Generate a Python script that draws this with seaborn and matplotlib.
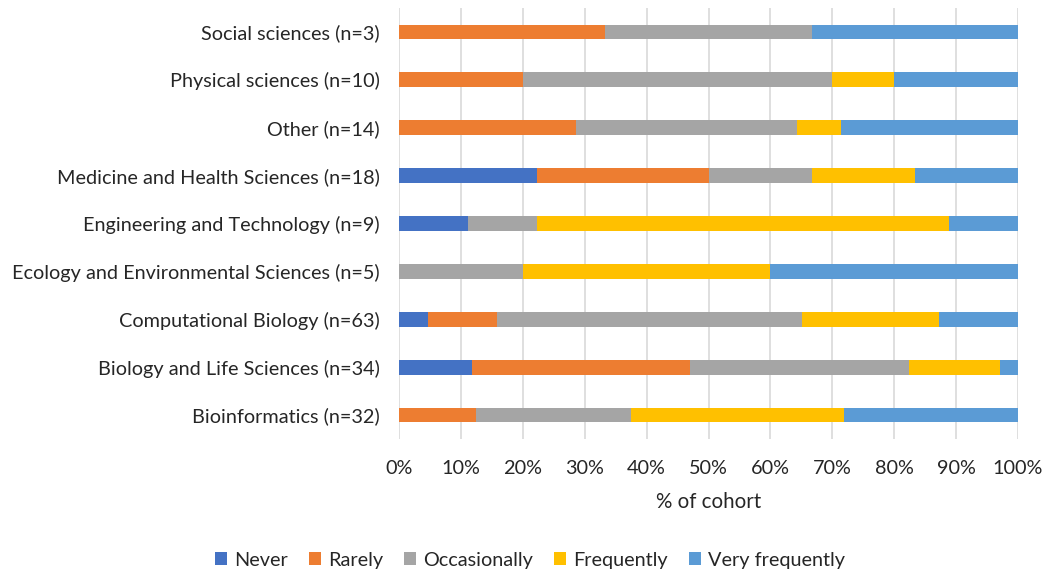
import numpy as np
import pandas as pd
import matplotlib
matplotlib.use("Agg")
import matplotlib.pyplot as plt
import seaborn as sns
from matplotlib.patches import Patch
from matplotlib.ticker import PercentFormatter

# Disciplines (top to bottom) and cohort sizes
disciplines = [
    "Social sciences", "Physical sciences", "Other",
    "Medicine and Health Sciences", "Engineering and Technology",
    "Ecology and Environmental Sciences", "Computational Biology",
    "Biology and Life Sciences", "Bioinformatics",
]
cohort_n = [3, 10, 14, 18, 9, 5, 63, 34, 32]

# Number of respondents per response category
never = [0, 0, 0, 4, 1, 0, 3, 4, 0]
rarely = [1, 2, 4, 5, 0, 0, 7, 12, 4]
occasionally = [1, 5, 5, 3, 1, 1, 31, 12, 8]
frequently = [0, 1, 1, 3, 6, 2, 14, 5, 11]
very_frequently = [1, 2, 4, 3, 1, 2, 8, 1, 9]

responses = ["Never", "Rarely", "Occasionally", "Frequently", "Very frequently"]
colors = ["#4472C4", "#ED7D31", "#A5A5A5", "#FFC000", "#5B9BD5"]

labels = [f"{d} (n={n})" for d, n in zip(disciplines, cohort_n)]
counts = np.array([never, rarely, occasionally, frequently, very_frequently], dtype=float)
pct = counts / np.array(cohort_n, dtype=float) * 100
cum = np.cumsum(pct, axis=0)

sns.set_theme(style="white")
plt.rcParams["font.family"] = ["Lato", "DejaVu Sans"]
text_color = "#262626"
fs = 14.3

fig = plt.figure(figsize=(10.6, 5.74), dpi=100)
ax = fig.add_axes([399 / 1060, 1 - 439 / 574, (1018 - 399) / 1060, (439 - 8) / 574])

# Draw cumulative totals from the widest to the narrowest so the segments stack
for i in range(len(responses) - 1, -1, -1):
    df = pd.DataFrame({"label": labels, "value": cum[i]})
    sns.barplot(data=df, x="value", y="label", order=labels, color=colors[i],
                width=0.31, orient="h", ax=ax, saturation=1, edgecolor="none")

ax.set_xlim(0, 100)
ax.set_ylim(len(labels) - 0.5, -0.5)
ax.xaxis.set_major_locator(plt.MultipleLocator(10))
ax.xaxis.set_major_formatter(PercentFormatter(decimals=0))
ax.grid(axis="x", color="#D9D9D9", linewidth=1.2)
ax.set_axisbelow(True)
for s in ax.spines.values():
    s.set_visible(False)
ax.tick_params(axis="both", length=0, labelsize=fs, colors=text_color)
ax.tick_params(axis="y", pad=14)
ax.tick_params(axis="x", pad=15)
ax.set_ylabel("")
ax.set_xlabel("% of cohort", fontsize=fs + 0.5, color=text_color, labelpad=11)

handles = [Patch(facecolor=c, edgecolor="none") for c in colors]
fig.legend(handles, responses, loc="lower center", bbox_to_anchor=(0.5, -0.022),
           ncol=5, frameon=False, fontsize=fs, handlelength=0.62,
           handleheight=0.62, handletextpad=0.35, columnspacing=1.05,
           labelcolor=text_color)

fig.savefig("out.png", dpi=100)
